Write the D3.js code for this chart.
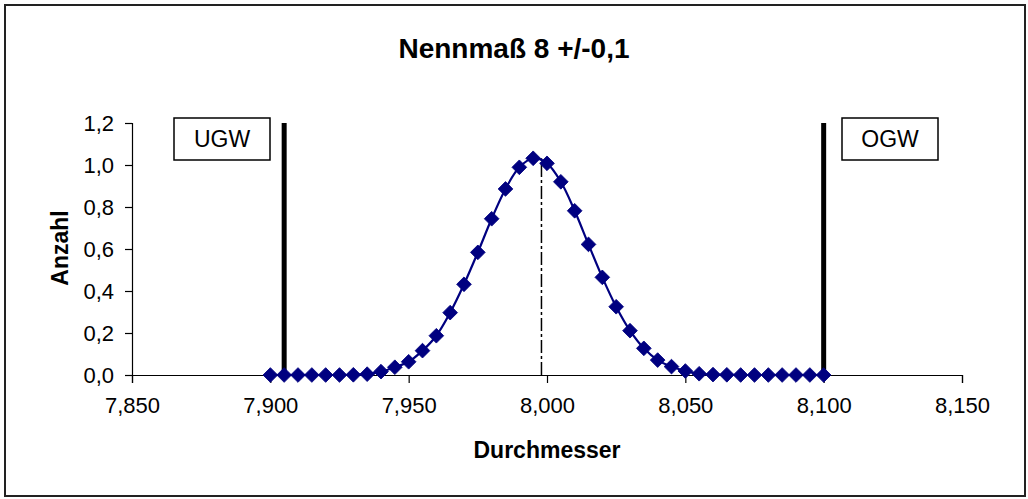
<!DOCTYPE html>
<html>
<head>
<meta charset="utf-8">
<script src="https://cdn.jsdelivr.net/npm/d3@7"></script>
<style>
	body { margin: 0; background: #fff; }
	text { font-family: "Liberation Sans", Arial, sans-serif; fill: #000; }
</style>
</head>
<body>
<div id="chart"></div>
<script>
// Durchmesser-Klassen (mm) und Anzahl (normiert)
var durchmesser = [7.900, 7.905, 7.910, 7.915, 7.920, 7.925, 7.930, 7.935, 7.940, 7.945,
	7.950, 7.955, 7.960, 7.965, 7.970, 7.975, 7.980, 7.985, 7.990, 7.995,
	8.000, 8.005, 8.010, 8.015, 8.020, 8.025, 8.030, 8.035, 8.040, 8.045,
	8.050, 8.055, 8.060, 8.065, 8.070, 8.075, 8.080, 8.085, 8.090, 8.095, 8.100];
var anzahl = [0, 0, 0, 0, 0, 0, 0.001, 0.004, 0.016, 0.037,
	0.063, 0.116, 0.187, 0.297, 0.432, 0.584, 0.744, 0.886, 0.989, 1.032,
	1.008, 0.920, 0.782, 0.622, 0.465, 0.325, 0.211, 0.127, 0.071, 0.040,
	0.019, 0.006, 0.002, 0.001, 0, 0, 0, 0, 0, 0, 0];
var grenzen = [{label: "UGW", value: 7.905}, {label: "OGW", value: 8.100}];
var mittelwert = 7.998;
var xTicks = [7.850, 7.900, 7.950, 8.000, 8.050, 8.100, 8.150];
var yTicks = [0, 0.2, 0.4, 0.6, 0.8, 1.0, 1.2];

var width = 1028,
	height = 499,
	navy = "#000080";

var data = durchmesser.map(function(d, i){
	return {x: d, y: anzahl[i]};
});

var svg = d3.select("#chart")
	.append("svg")
	.attr("width", width)
	.attr("height", height);

svg.append("rect")
	.attr("x", 5).attr("y", 5)
	.attr("width", 1020).attr("height", 491)
	.attr("fill", "#fff")
	.attr("stroke", "#222")
	.attr("stroke-width", 2);

var x = d3.scaleLinear().domain([7.85, 8.15]).range([132, 962]),
	y = d3.scaleLinear().domain([0, 1.2]).range([375, 123]);

var komma = function(n){ return function(d){ return d.toFixed(n).replace(".", ","); }; };

// Achsen
var xAxis = svg.append("g")
	.attr("transform", "translate(0,375)")
	.call(d3.axisBottom(x).tickValues(xTicks).tickSize(8).tickPadding(14).tickFormat(komma(3)));
var yAxis = svg.append("g")
	.attr("transform", "translate(132,0)")
	.call(d3.axisLeft(y).tickValues(yTicks).tickSize(7).tickPadding(11).tickFormat(komma(1)));

[xAxis, yAxis].forEach(function(a){
	a.select(".domain").attr("stroke", "#000").attr("stroke-width", 1.2);
	a.selectAll(".tick line").attr("stroke", "#000").attr("stroke-width", 1.2);
	a.selectAll(".tick text").attr("font-size", 22).attr("font-family", "Liberation Sans, Arial, sans-serif").attr("fill", "#000");
});

// Grenzlinien
svg.selectAll(".grenze")
	.data(grenzen)
	.enter()
	.append("line")
	.attr("class", "grenze")
	.attr("x1", function(d){ return x(d.value); })
	.attr("x2", function(d){ return x(d.value); })
	.attr("y1", y(0))
	.attr("y2", y(1.2))
	.attr("stroke", "#000")
	.attr("stroke-width", 5);

// Mittelwert (strich-punkt)
svg.append("line")
	.attr("x1", x(mittelwert)).attr("x2", x(mittelwert))
	.attr("y1", y(0)).attr("y2", y(d3.max(anzahl)))
	.attr("stroke", "#000")
	.attr("stroke-width", 1.5)
	.attr("stroke-dasharray", "13,3,3,3");

// Kurve
var line = d3.line()
	.x(function(d){ return x(d.x); })
	.y(function(d){ return y(d.y); })
	.curve(d3.curveCatmullRom.alpha(0.5));

svg.append("path")
	.datum(data)
	.attr("d", line)
	.attr("fill", "none")
	.attr("stroke", navy)
	.attr("stroke-width", 2.2);

svg.selectAll(".punkt")
	.data(data)
	.enter()
	.append("path")
	.attr("class", "punkt")
	.attr("d", d3.symbol(d3.symbolSquare, 108))
	.attr("transform", function(d){
		return "translate(" + x(d.x) + "," + y(d.y) + ") rotate(45)";
	})
	.attr("fill", navy)
	.attr("stroke", navy)
	.attr("stroke-width", 0.8);

// Beschriftungskästen
var boxes = [{label: "UGW", x0: 174, x1: 270}, {label: "OGW", x0: 842, x1: 938}];
var box = svg.selectAll(".box")
	.data(boxes)
	.enter()
	.append("g")
	.attr("class", "box");
box.append("rect")
	.attr("x", function(d){ return d.x0; })
	.attr("y", 118)
	.attr("width", function(d){ return d.x1 - d.x0; })
	.attr("height", 42)
	.attr("fill", "#fff")
	.attr("stroke", "#000")
	.attr("stroke-width", 1.5);
box.append("text")
	.attr("x", function(d){ return (d.x0 + d.x1) / 2; })
	.attr("y", 147)
	.attr("text-anchor", "middle")
	.attr("font-size", 23)
	.text(function(d){ return d.label; });

// Titel
svg.append("text")
	.attr("x", 514)
	.attr("y", 58)
	.attr("text-anchor", "middle")
	.attr("font-size", 28)
	.attr("font-weight", "bold")
	.text("Nennmaß 8 +/-0,1");

svg.append("text")
	.attr("x", 547)
	.attr("y", 458)
	.attr("text-anchor", "middle")
	.attr("font-size", 23)
	.attr("font-weight", "bold")
	.text("Durchmesser");

svg.append("text")
	.attr("transform", "translate(68,248) rotate(-90)")
	.attr("text-anchor", "middle")
	.attr("font-size", 23)
	.attr("font-weight", "bold")
	.text("Anzahl");
</script>
</body>
</html>
